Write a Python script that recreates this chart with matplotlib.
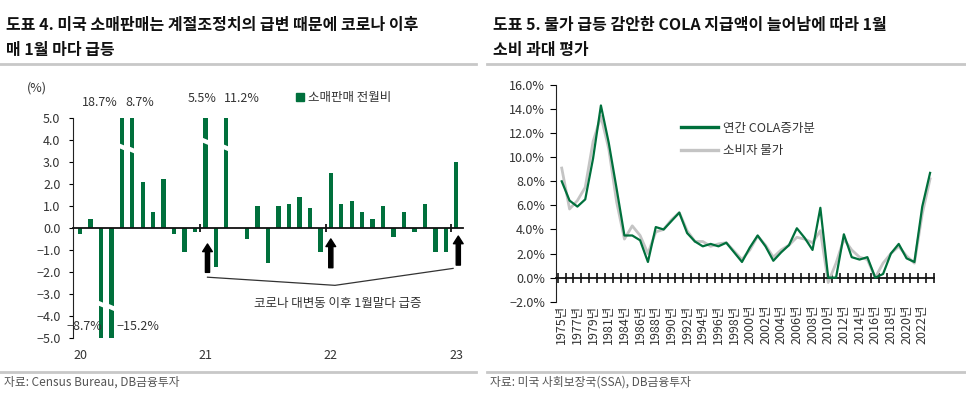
import numpy as np
import pandas as pd
import matplotlib
matplotlib.use("Agg")
import matplotlib.pyplot as plt
from matplotlib.lines import Line2D
from matplotlib.patches import Polygon

plt.rcParams['font.family'] = ['Noto Sans CJK KR', 'DejaVu Sans']
plt.rcParams['axes.unicode_minus'] = True

GREEN = '#00703c'
GRAY = '#c4c4c4'
TXT = '#333333'

# ---- left panel data: US retail sales m/m (%), Jan 2020 .. Jan 2023
months = pd.date_range('2020-01-01', '2023-01-01', freq='MS')
retail_mom = [-0.3, 0.4, -8.7, -15.2, 18.7, 8.7, 2.1, 0.7, 2.2, -0.3, -1.1, -0.2,
              5.5, -1.8, 11.2, 0.0, -0.5, 1.0, -1.6, 1.0, 1.1, 1.4, 0.9, -1.1,
              2.5, 1.1, 1.2, 0.7, 0.4, 1.0, -0.4, 0.7, -0.2, 1.1, -1.1, -1.1,
              3.0]
year_labels = ['20', '21', '22', '23']
# where the axis-break mark sits on the clipped bars
break_at = {2: -3.45, 3: -3.6, 4: 3.7, 5: 3.55, 12: 3.95, 14: 3.65}

# ---- right panel data: annual COLA vs CPI (%)
years = list(range(1975, 1983)) + list(range(1984, 2024))
cola = [8.0, 6.4, 5.9, 6.5, 9.9, 14.3, 11.2, 7.4,
        3.5, 3.5, 3.1, 1.3, 4.2, 4.0, 4.7, 5.4, 3.7, 3.0, 2.6, 2.8, 2.6, 2.9, 2.1, 1.3,
        2.5, 3.5, 2.6, 1.4, 2.1, 2.7, 4.1, 3.3, 2.3, 5.8, 0.0, 0.0, 3.6, 1.7, 1.5, 1.7,
        0.0, 0.3, 2.0, 2.8, 1.6, 1.3, 5.9, 8.7]
cpi = [9.1, 5.7, 6.4, 7.5, 11.3, 13.4, 10.7, 6.3,
       3.2, 4.3, 3.5, 2.0, 3.8, 4.0, 4.8, 5.4, 3.9, 3.0, 3.0, 2.6, 2.8, 2.9, 2.2, 1.5,
       2.3, 3.45, 2.7, 1.7, 2.3, 2.7, 3.35, 3.2, 2.9, 3.9, -0.4, 1.2, 3.2, 2.3, 1.7, 1.5,
       0.0, 1.2, 2.0, 2.6, 1.8, 1.2, 5.3, 8.2]

W, H = 966, 395
fig = plt.figure(figsize=(W / 100, H / 100), dpi=100)

def fx(px):
    return px / W

def fy(py):
    return 1 - py / H

# titles + separators
title_kw = dict(fontsize=11.5, color='#111', va='center', ha='left', fontweight='bold')
fig.text(fx(6), fy(25), '도표 4. 미국 소매판매는 계절조정치의 급변 때문에 코로나 이후', **title_kw)
fig.text(fx(6), fy(50), '매 1월 마다 급등', **title_kw)
fig.text(fx(493), fy(25), '도표 5. 물가 급등 감안한 COLA 지급액이 늘어남에 따라 1월', **title_kw)
fig.text(fx(493), fy(50), '소비 과대 평가', **title_kw)
for y in (63.5, 371.5):
    fig.add_artist(Line2D([0, fx(476)], [fy(y), fy(y)], color='#c8c8c8', lw=2))
    fig.add_artist(Line2D([fx(487), 1], [fy(y), fy(y)], color='#c8c8c8', lw=2))
fig.text(fx(4), fy(382), '자료: Census Bureau, DB금융투자', fontsize=8.5,
         color='#555', va='center')
fig.text(fx(490), fy(382), '자료: 미국 사회보장국(SSA), DB금융투자', fontsize=8.5,
         color='#555', va='center')

# ================= left: retail sales bars =================
ax = fig.add_axes([fx(73), fy(337.7), fx(463 - 73), (337.7 - 117.7) / H])
x = np.arange(len(months))
ax.bar(x, retail_mom, width=0.42, color=GREEN, zorder=2, label='소매판매 전월비')
ax.set_xlim(-0.67, 36.65)
ax.set_ylim(-5, 5)
ax.set_yticks(np.arange(-5, 5.1, 1))
ax.set_yticklabels([f'{v:.1f}'.replace('-', '\u2212') for v in np.arange(-5, 5.1, 1)])
for s in ('top', 'right'):
    ax.spines[s].set_visible(False)
ax.spines['left'].set_color('#222')
ax.spines['bottom'].set_position(('data', 0))
ax.spines['bottom'].set_color('#111')
ax.spines['bottom'].set_linewidth(1.3)
ax.set_xticks([11.5, 23.5, 35.5])
ax.tick_params(axis='x', direction='inout', length=6, width=1.2, labelbottom=False)
ax.tick_params(axis='y', direction='out', length=3, labelsize=9, labelcolor=TXT, pad=6)
sec = ax.secondary_xaxis('bottom')
sec.set_xticks([0, 12, 24, 36])
sec.set_xticklabels(year_labels)
sec.tick_params(length=0, labelsize=9, labelcolor=TXT, pad=8)
sec.spines['bottom'].set_visible(False)

# axis-break marks on clipped bars
for i, yb in break_at.items():
    poly = Polygon([(i - 0.35, yb + 0.12), (i + 0.35, yb - 0.02),
                    (i + 0.35, yb - 0.17), (i - 0.35, yb - 0.03)],
                   closed=True, color='white', zorder=3, clip_on=False)
    ax.add_patch(poly)

# value labels of clipped bars
lbl = dict(fontsize=9, color=TXT, ha='center', va='center', clip_on=False)
ax.text(1.9, 5.67, '18.7%', **lbl)
ax.text(5.75, 5.67, '8.7%', **lbl)
ax.text(11.7, 5.86, '5.5%', **lbl)
ax.text(15.5, 5.86, '11.2%', **lbl)
ax.text(0.4, -4.5, '\u22128.7%', **lbl)
ax.text(5.5, -4.47, '\u221215.2%', **lbl)
ax.text(-4.1, 6.35, '(%)', **lbl)

# January arrows + callout
tips = {12: (-2.03, -0.74), 24: (-1.82, -0.51), 36: (-1.7, -0.38)}
for i, (y0, y1) in tips.items():
    xi = i + 0.2 if i != 24 else i
    ax.annotate('', xy=(xi, y1), xytext=(xi, y0),
                arrowprops=dict(arrowstyle='simple,head_length=0.55,head_width=0.7,tail_width=0.3',
                                color='black', shrinkA=0, shrinkB=0, mutation_scale=10),
                annotation_clip=False)
ax.plot([12.2, 24.4, 35.7], [-2.25, -2.62, -1.85], color='#333', lw=0.9, zorder=3)
ax.text(24.7, -3.43, '코로나 대변동 이후 1월말다 급증', fontsize=9, color=TXT,
        ha='center', va='center')

leg = ax.legend(handles=[Line2D([], [], marker='s', ls='none', color=GREEN, markersize=5.5)],
                labels=['소매판매 전월비'], loc='center left', bbox_to_anchor=(0.57, 1.09),
                frameon=False, fontsize=9, handletextpad=0.2, handlelength=0.8,
                borderaxespad=0, borderpad=0)
for t in leg.get_texts():
    t.set_color(TXT)

# ================= right: COLA vs CPI =================
ax2 = fig.add_axes([fx(556), fy(301.7), fx(934 - 556), (301.7 - 85) / H])
xi = np.arange(len(years))
ax2.plot(xi, cpi, color=GRAY, lw=2.0, zorder=2, label='소비자 물가')
ax2.plot(xi, cola, color=GREEN, lw=1.6, zorder=3, label='연간 COLA증가분')
ax2.set_xlim(-0.73, 47.5)
ax2.set_ylim(-2, 16)
yt = np.arange(-2, 16.1, 2)
ax2.set_yticks(yt)
ax2.set_yticklabels([f'{v:.1f}%'.replace('-', '\u2212') for v in yt])
for s in ('top', 'right'):
    ax2.spines[s].set_visible(False)
ax2.spines['left'].set_color('#222')
ax2.spines['bottom'].set_position(('data', 0))
ax2.spines['bottom'].set_color('#111')
ax2.spines['bottom'].set_linewidth(1.3)
ax2.set_xticks(np.arange(-0.5, len(years), 1))
ax2.tick_params(axis='x', direction='inout', length=7, width=1.1, labelbottom=False)
ax2.tick_params(axis='y', direction='out', length=4, labelsize=9, labelcolor=TXT, pad=4)
sec2 = ax2.secondary_xaxis('bottom')
sec2.set_xticks(xi[::2])
sec2.set_xticklabels([f'{y}년' for y in years[::2]], rotation=90)
sec2.tick_params(length=0, labelsize=9, labelcolor=TXT, pad=2)
sec2.spines['bottom'].set_visible(False)

leg2 = ax2.legend([Line2D([], [], color=GREEN, lw=2.4), Line2D([], [], color=GRAY, lw=2.4)],
                  ['연간 COLA증가분', '소비자 물가'], loc='upper left',
                  bbox_to_anchor=(0.33, 0.83), frameon=False, fontsize=9,
                  handlelength=3.0, handletextpad=0.4, labelspacing=0.75,
                  borderaxespad=0, borderpad=0)
for t in leg2.get_texts():
    t.set_color(TXT)

fig.savefig('out.png', dpi=100)
